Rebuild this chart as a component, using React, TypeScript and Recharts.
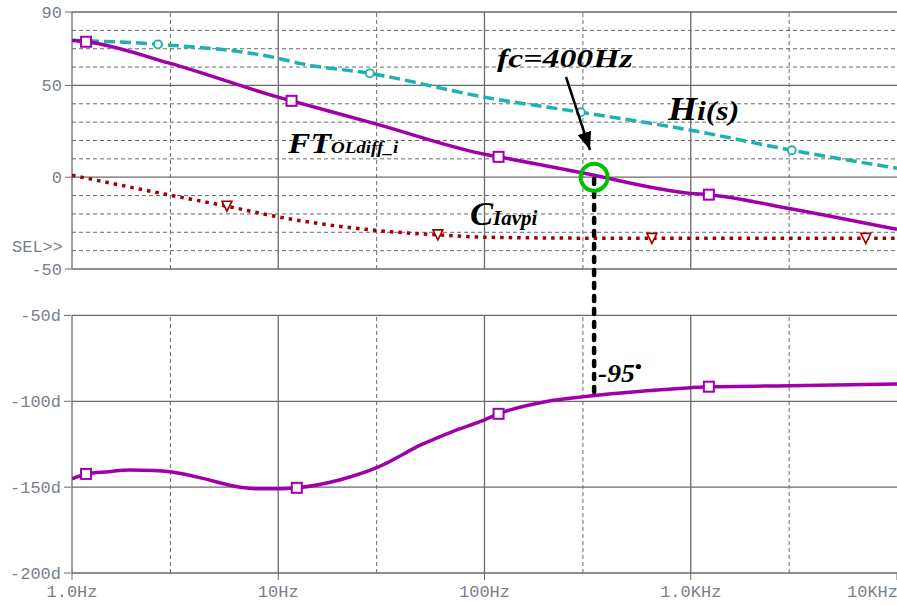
import React from "react";
import { LineChart, Line, XAxis, YAxis, ReferenceLine, ReferenceDot } from "recharts";

// frequency axis
const FREQ_TICKS = [1, 10, 100, 1000, 10000];
const FREQ_LABELS = ["1.0Hz", "10Hz", "100Hz", "1.0KHz", "10KHz"];
const FREQ_MAJOR = [10, 100, 1000];
const FREQ_MINOR = [3, 30, 300, 3000];

// magnitude panel (dB)
const MAG_TICKS = [-50, 0, 50, 90];
const MAG_MAJOR = [90, 50, 0, -50];
const MAG_MINOR = [80, 70, 60, 40, 30, 20, 10, -10, -20, -30, -40];

// phase panel (deg)
const PH_TICKS = [-200, -150, -100, -50];
const PH_MAJOR = [-50, -100, -150, -200];

// FT_OLdiff_i magnitude
const FT_F = [1, 1.17, 3, 10, 11.6, 30, 100, 117, 300, 1000, 1224, 3000, 10000];
const FT_DB = [74.5, 73.8, 62, 43.6, 41.6, 28.9, 12.5, 11.1, 2.3, -8.8, -9.5, -17, -28.4];
const FT_MARK_F = [1.17, 11.6, 117, 1224];
const FT_MARK_DB = [73.8, 41.6, 11.1, -9.5];

// Hi(s) magnitude
const HI_F = [1, 2.61, 10, 12.7, 27.8, 100, 293, 1000, 3090, 10000];
const HI_DB = [74.6, 72.4, 64.8, 62, 56.6, 43.6, 35.4, 25.6, 14.7, 4.9];
const HI_MARK_F = [2.61, 27.8, 293, 3090];
const HI_MARK_DB = [72.4, 56.6, 35.4, 14.7];

// C_Iavpi magnitude
const C_F = [1, 3, 5.64, 10, 30, 59.4, 100, 300, 648, 1000, 7060, 10000];
const C_DB = [1.1, -9.8, -15.8, -21.6, -29, -31.4, -32.7, -33.2, -33.3, -33.3, -33.3, -33.3];
const C_MARK_F = [5.64, 59.4, 648, 7060];
const C_MARK_DB = [-15.8, -31.4, -33.3, -33.3];

// FT_OLdiff_i phase
const PH_F = [1, 1.17, 1.5, 1.9, 2.5, 3, 4.2, 6, 8, 10, 12.3, 20, 30, 50, 70, 100, 117, 200, 300, 400, 1000, 1224, 3000, 10000];
const PH_DEG = [-145.2, -142.3, -141, -140, -140.3, -141.1, -144.6, -149.2, -151, -151, -150.4, -145.7, -138.7, -125, -117.6, -110.8, -107.3, -100.1, -97.4, -95.8, -92.1, -91.5, -91, -89.9];
const PH_MARK_F = [1.17, 12.3, 117, 1224];
const PH_MARK_DEG = [-142.3, -150.4, -107.3, -91.5];

const FC = 340;
const FC_PHASE = -95;

// both panels share one plot area; each y axis is stretched so its panel lands in place
const MAG_DOMAIN: [number, number] = [-215.6, 90];
const PH_DOMAIN: [number, number] = [-200, 126.7];
const magToPh = (v: number) =>
  PH_DOMAIN[0] + ((v - MAG_DOMAIN[0]) * (PH_DOMAIN[1] - PH_DOMAIN[0])) / (MAG_DOMAIN[1] - MAG_DOMAIN[0]);

const zip = (f: number[], v: number[]) => f.map((x, i) => ({ f: x, v: v[i] }));

const PURPLE = "#a000aa";
const TEAL = "#1fb0b0";
const RED = "#a00000";
const GRID = "#6a6a6a";
const TXT = "#7a7f88";
const MONO = "'Liberation Mono', monospace";
const SERIF = "'Liberation Serif', serif";

const square = (p: any) => (
  <rect key={p.index} x={p.cx - 5} y={p.cy - 5} width={10} height={10} fill="#fff" stroke={PURPLE} strokeWidth={2} />
);
const circle = (p: any) => (
  <circle key={p.index} cx={p.cx} cy={p.cy} r={4} fill="#fff" stroke={TEAL} strokeWidth={1.8} />
);
const tri = (p: any) => (
  <path key={p.index} d={`M${p.cx - 5},${p.cy - 5}L${p.cx + 5},${p.cy - 5}L${p.cx},${p.cy + 5}Z`} fill="#fff" stroke={RED} strokeWidth={1.6} />
);

// last label sits on the right edge, so keep it inside the picture
const FreqTick = (p: any) => {
  const label = FREQ_LABELS[FREQ_TICKS.indexOf(p.payload.value)];
  const atEdge = p.x > 880;
  return (
    <text x={atEdge ? p.x + 1 : p.x} y={p.y} dy="0.71em" textAnchor={atEdge ? "end" : "middle"} fontFamily={MONO} fontSize={17} fill={TXT}>
      {label}
    </text>
  );
};

export default function App() {
  const tickStyle = { fontFamily: MONO, fontSize: 17, fill: TXT };
  return (
    <div style={{ position: "absolute", left: 0, top: 0, width: 897, height: 605, background: "#fff" }}>
      <LineChart width={897} height={605} margin={{ top: 12, right: 0, bottom: 0, left: 70 }}>
        <XAxis
          dataKey="f"
          type="number"
          scale="log"
          domain={[1, 10000]}
          allowDataOverflow
          ticks={FREQ_TICKS}
          interval={0}
          axisLine={false}
          tickLine={{ stroke: GRID }}
          tickSize={7}
          tickMargin={5}
          height={32}
          tick={<FreqTick />}
        />
        <YAxis
          yAxisId="ph"
          width={1}
          type="number"
          domain={PH_DOMAIN}
          allowDataOverflow
          ticks={PH_TICKS}
          interval={0}
          tickFormatter={(v: number) => `${v}d`}
          axisLine={false}
          tickLine={{ stroke: GRID }}
          tickSize={7}
          tickMargin={3}
          tick={tickStyle}
        />
        <YAxis
          yAxisId="mag"
          width={1}
          type="number"
          domain={MAG_DOMAIN}
          allowDataOverflow
          ticks={MAG_TICKS}
          interval={0}
          axisLine={false}
          tickLine={{ stroke: GRID }}
          tickSize={7}
          tickMargin={3}
          tick={tickStyle}
        />

        {/* magnitude panel grid */}
        {MAG_MINOR.map((v) => (
          <ReferenceLine key={"mm" + v} yAxisId="mag" y={v} stroke={GRID} strokeDasharray="4 3" />
        ))}
        {MAG_MAJOR.map((v) => (
          <ReferenceLine key={"mM" + v} yAxisId="mag" y={v} stroke={GRID} strokeWidth={1.3} />
        ))}
        {FREQ_MINOR.map((f) => (
          <ReferenceLine key={"fm" + f} yAxisId="mag" segment={[{ x: f, y: -50 }, { x: f, y: 90 }]} stroke={GRID} strokeDasharray="4 3" />
        ))}
        {[1, ...FREQ_MAJOR].map((f) => (
          <ReferenceLine key={"fM" + f} yAxisId="mag" segment={[{ x: f, y: -50 }, { x: f, y: 90 }]} stroke={GRID} strokeWidth={1.3} />
        ))}

        {/* phase panel grid */}
        {PH_MAJOR.map((v) => (
          <ReferenceLine key={"pM" + v} yAxisId="ph" y={v} stroke={GRID} strokeWidth={1.3} />
        ))}
        {FREQ_MINOR.map((f) => (
          <ReferenceLine key={"pfm" + f} yAxisId="ph" segment={[{ x: f, y: -200 }, { x: f, y: -50 }]} stroke={GRID} strokeDasharray="4 3" />
        ))}
        {[1, ...FREQ_MAJOR].map((f) => (
          <ReferenceLine key={"pfM" + f} yAxisId="ph" segment={[{ x: f, y: -200 }, { x: f, y: -50 }]} stroke={GRID} strokeWidth={1.3} />
        ))}

        <Line yAxisId="mag" data={zip(HI_F, HI_DB)} dataKey="v" type="monotone" stroke={TEAL} strokeWidth={3.5} strokeDasharray="11 5" dot={false} isAnimationActive={false} />
        <Line yAxisId="mag" data={zip(C_F, C_DB)} dataKey="v" type="monotone" stroke={RED} strokeWidth={3.5} strokeDasharray="3.5 5" dot={false} isAnimationActive={false} />
        <Line yAxisId="mag" data={zip(FT_F, FT_DB)} dataKey="v" type="monotone" stroke={PURPLE} strokeWidth={3.5} dot={false} isAnimationActive={false} />
        <Line yAxisId="ph" data={zip(PH_F, PH_DEG)} dataKey="v" type="monotone" stroke={PURPLE} strokeWidth={3.5} dot={false} isAnimationActive={false} />

        <Line yAxisId="mag" data={zip(HI_MARK_F, HI_MARK_DB)} dataKey="v" stroke="none" dot={circle} isAnimationActive={false} />
        <Line yAxisId="mag" data={zip(C_MARK_F, C_MARK_DB)} dataKey="v" stroke="none" dot={tri} isAnimationActive={false} />
        <Line yAxisId="mag" data={zip(FT_MARK_F, FT_MARK_DB)} dataKey="v" stroke="none" dot={square} isAnimationActive={false} />
        <Line yAxisId="ph" data={zip(PH_MARK_F, PH_MARK_DEG)} dataKey="v" stroke="none" dot={square} isAnimationActive={false} />

        <ReferenceLine
          yAxisId="ph"
          segment={[{ x: FC, y: magToPh(-1) }, { x: FC, y: FC_PHASE }]}
          stroke="#000"
          strokeWidth={4.5}
          strokeDasharray="5 8"
          strokeLinecap="round"
        />
        <ReferenceDot yAxisId="mag" x={FC} y={0} r={13.5} fill="none" stroke="#00c000" strokeWidth={4} />
      </LineChart>

      <svg width={897} height={605} style={{ position: "absolute", left: 0, top: 0, pointerEvents: "none" }}>
        <defs>
          <marker id="ah" markerUnits="userSpaceOnUse" markerWidth={18} markerHeight={14} refX={18} refY={7} orient="auto">
            <path d="M0,0 L18,7 L0,14 Z" fill="#000" />
          </marker>
        </defs>
        <text x={12} y={252} fontFamily={MONO} fontSize={17} fill={TXT}>SEL&gt;&gt;</text>
        <line x1={566} y1={77} x2={590} y2={150} stroke="#000" strokeWidth={2.5} markerEnd="url(#ah)" />
        <text transform="translate(497,67) scale(1.3,1)" fontFamily={SERIF} fontSize={26} fontWeight="bold" fontStyle="italic" fill="#000">fc=400Hz</text>
        <text transform="translate(288,153) scale(1.12,1)" fontFamily={SERIF} fontWeight="bold" fontStyle="italic" fill="#000">
          <tspan fontSize={30}>FT</tspan>
          <tspan fontSize={17}>OLdiff_i</tspan>
        </text>
        <text transform="translate(668,120) scale(1.13,1)" fontFamily={SERIF} fontWeight="bold" fontStyle="italic" fill="#000">
          <tspan fontSize={33}>H</tspan>
          <tspan fontSize={28}>i(s)</tspan>
        </text>
        <text transform="translate(470,225) scale(1.05,1)" fontFamily={SERIF} fontWeight="bold" fontStyle="italic" fill="#000">
          <tspan fontSize={33}>C</tspan>
          <tspan fontSize={20}>Iavpi</tspan>
        </text>
        <text transform="translate(598,382) scale(1.1,1)" fontFamily={SERIF} fontWeight="bold" fontStyle="italic" fill="#000">
          <tspan fontSize={25}>-95</tspan>
          <tspan fontSize={18} dy={-9}>•</tspan>
        </text>
      </svg>
    </div>
  );
}
